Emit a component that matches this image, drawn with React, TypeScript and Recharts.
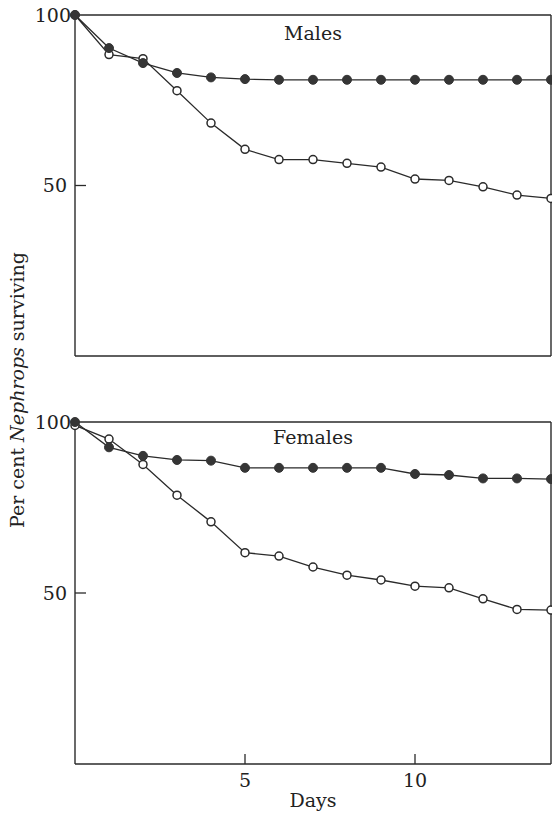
import React from 'react';
import { LineChart, Line, XAxis, YAxis, ReferenceLine } from 'recharts';

const days = [0, 1, 2, 3, 4, 5, 6, 7, 8, 9, 10, 11, 12, 13, 14];
const malesSolid = [100, 90.3, 85.9, 83, 81.7, 81.2, 81, 81, 81, 81, 81, 81, 81, 81, 81];
const malesOpen = [100, 88.4, 87.2, 77.8, 68.3, 60.6, 57.6, 57.6, 56.5, 55.4, 51.9, 51.5, 49.6, 47.2, 46.2];
const femalesSolid = [100, 92.6, 90.1, 88.9, 88.7, 86.6, 86.6, 86.6, 86.6, 86.6, 84.8, 84.5, 83.5, 83.5, 83.3];
const femalesOpen = [99, 95, 87.6, 78.6, 70.8, 61.8, 60.8, 57.6, 55.2, 53.8, 52, 51.5, 48.3, 45.2, 45];
const xTicks = [5, 10];
const yTicks = [50, 100];

const INK = '#2a2a2a';
const FONT = 'DejaVu Serif';

const malesData = days.map((d, i) => ({ day: d, solid: malesSolid[i], open: malesOpen[i] }));
const femalesData = days.map((d, i) => ({ day: d, solid: femalesSolid[i], open: femalesOpen[i] }));

const YTick = (props: any) => {
  const { x, y, payload } = props;
  const v = payload.value;
  return (
    <g>
      {v === 50 && <line x1={x} x2={x + 11} y1={y} y2={y} stroke={INK} strokeWidth={1.3} />}
      <text
        x={x - (v === 100 ? 4 : 8)}
        y={y}
        dy="0.36em"
        textAnchor="end"
        fill="#222"
        style={{ fontFamily: FONT, fontSize: 19 }}
      >
        {v}
      </text>
    </g>
  );
};

const XTick = (props: any) => {
  const { x, y, payload } = props;
  return (
    <g>
      <line x1={x} x2={x} y1={y} y2={y - 10} stroke={INK} strokeWidth={1.3} />
      <text x={x} y={y + 23} textAnchor="middle" fill="#222" style={{ fontFamily: FONT, fontSize: 19 }}>
        {payload.value}
      </text>
    </g>
  );
};

const panelTitle = (title: string, dy: number) => (props: any) => {
  const vb = props.viewBox;
  return (
    <text x={vb.x + vb.width / 2} y={vb.y + dy} textAnchor="middle" fill="#222" style={{ fontFamily: FONT, fontSize: 19 }}>
      {title}
    </text>
  );
};

const solidDot = { r: 4.5, fill: '#353535', stroke: '#353535', strokeWidth: 1 };
const openDot = { r: 4, fill: '#fff', stroke: INK, strokeWidth: 1.5 };

const Panel = ({ data, title, height, top, xAxisHeight, titleDy, showTicks }: any) => (
  <LineChart width={552} height={height} data={data} margin={{ top, right: 1, left: 0, bottom: 0 }}>
    <XAxis
      dataKey="day"
      type="number"
      domain={[0, 14]}
      ticks={showTicks ? xTicks : []}
      tick={showTicks ? <XTick /> : false}
      tickLine={false}
      tickSize={0}
      tickMargin={0}
      height={xAxisHeight}
      axisLine={{ stroke: INK, strokeWidth: 1.4 }}
      label={
        showTicks
          ? (p: any) => (
              <text
                x={p.viewBox.x + p.viewBox.width / 2}
                y={p.viewBox.y + 43}
                textAnchor="middle"
                fill="#222"
                style={{ fontFamily: FONT, fontSize: 19 }}
              >
                Days
              </text>
            )
          : undefined
      }
    />
    <YAxis
      type="number"
      domain={[0, 100]}
      ticks={yTicks}
      width={75}
      tick={<YTick />}
      tickLine={false}
      tickSize={0}
      tickMargin={0}
      axisLine={{ stroke: INK, strokeWidth: 1.4 }}
    />
    <ReferenceLine y={100} stroke={INK} strokeWidth={1.4} label={panelTitle(title, titleDy)} />
    <ReferenceLine x={14} stroke={INK} strokeWidth={1.4} />
    <Line
      dataKey="open"
      stroke={INK}
      strokeWidth={1.3}
      dot={openDot}
      activeDot={false}
      isAnimationActive={false}
    />
    <Line
      dataKey="solid"
      stroke={INK}
      strokeWidth={1.3}
      dot={solidDot}
      activeDot={false}
      isAnimationActive={false}
    />
  </LineChart>
);

export default function App() {
  return (
    <div style={{ position: 'absolute', left: 0, top: 0, width: 552, height: 813, background: '#fff', fontFamily: FONT }}>
      <div style={{ position: 'absolute', left: 0, top: 0 }}>
        <Panel data={malesData} title="Males" height={361} top={15} xAxisHeight={5} titleDy={25} showTicks={false} />
      </div>
      <div style={{ position: 'absolute', left: 0, top: 400 }}>
        <Panel data={femalesData} title="Females" height={413} top={22} xAxisHeight={49} titleDy={22} showTicks />
      </div>
      <div
        style={{
          position: 'absolute',
          left: 17 - 160,
          top: 390 - 12,
          width: 320,
          height: 24,
          lineHeight: '24px',
          textAlign: 'center',
          transform: 'rotate(-90deg)',
          fontSize: 19,
          color: '#222',
          whiteSpace: 'nowrap',
        }}
      >
        Per cent <i>Nephrops</i> surviving
      </div>
    </div>
  );
}
